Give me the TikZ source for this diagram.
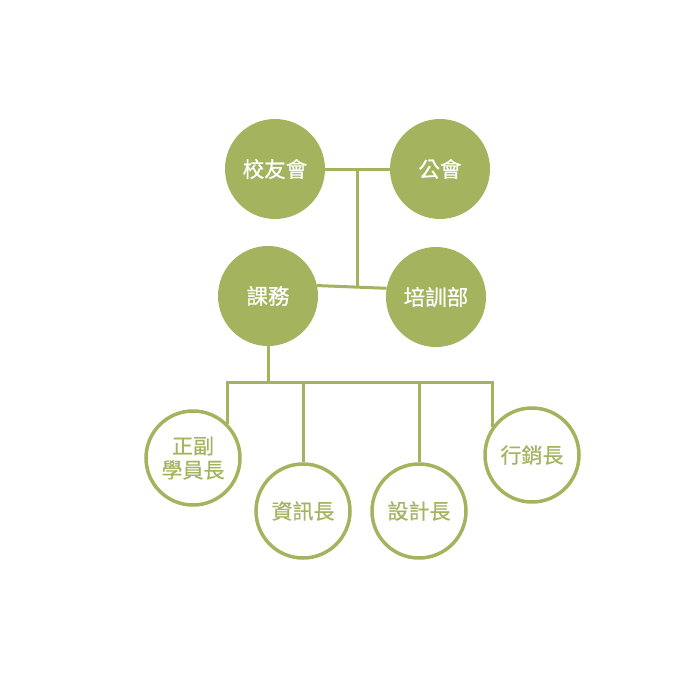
\documentclass[tikz,border=0pt]{standalone}
\usepackage{fontspec}
\newfontfamily\cjk[FakeBold=0.6]{Noto Sans CJK TC}
\definecolor{olive}{HTML}{A3B35E}
\usetikzlibrary{positioning}

\begin{document}
\begin{tikzpicture}[x=1pt,y=-1pt,
	filled/.style={circle, fill=olive, minimum size=100pt, inner sep=0pt, text=white, font=\cjk\fontsize{21.5}{23}\selectfont},
	ring/.style={circle, draw=olive, line width=3.5pt, minimum size=94pt, inner sep=0pt, text=olive, font=\cjk\fontsize{21}{24}\selectfont, align=center},
	link/.style={draw=olive, line width=3pt}]
	\useasboundingbox (0,0) rectangle (697,696);

	\node (alumni)   at (275,169) [filled] {校友會};
	\node (union)    at (440,169) [filled] {公會};
	\node (course)   at (268,296) [filled] {課務};
	\node (training) at (436,297) [filled] {培訓部};

	\node (leader)    at (193,458) [ring] {正副\\學員長};
	\node (info)      at (303,511) [ring] {資訊長};
	\node (design)    at (419,511) [ring] {設計長};
	\node (marketing) at (532,455) [ring] {行銷長};

	% top block
	\draw [link] (alumni) -- (union) coordinate[midway] (topmid);
	\draw [link] (course.12) -- (training.170);
	\draw [link] (topmid) -- (topmid |- course.12);

	% bus to the leads
	\draw [link] (course.south) -- ++(0,36) coordinate (busmid);
	\draw [link] (leader.45) -- (leader.45 |- busmid) -- (marketing.145 |- busmid) -- (marketing.145);
	\draw [link] (info.north) -- (info.north |- busmid);
	\draw [link] (design.north) -- (design.north |- busmid);
\end{tikzpicture}
\end{document}
